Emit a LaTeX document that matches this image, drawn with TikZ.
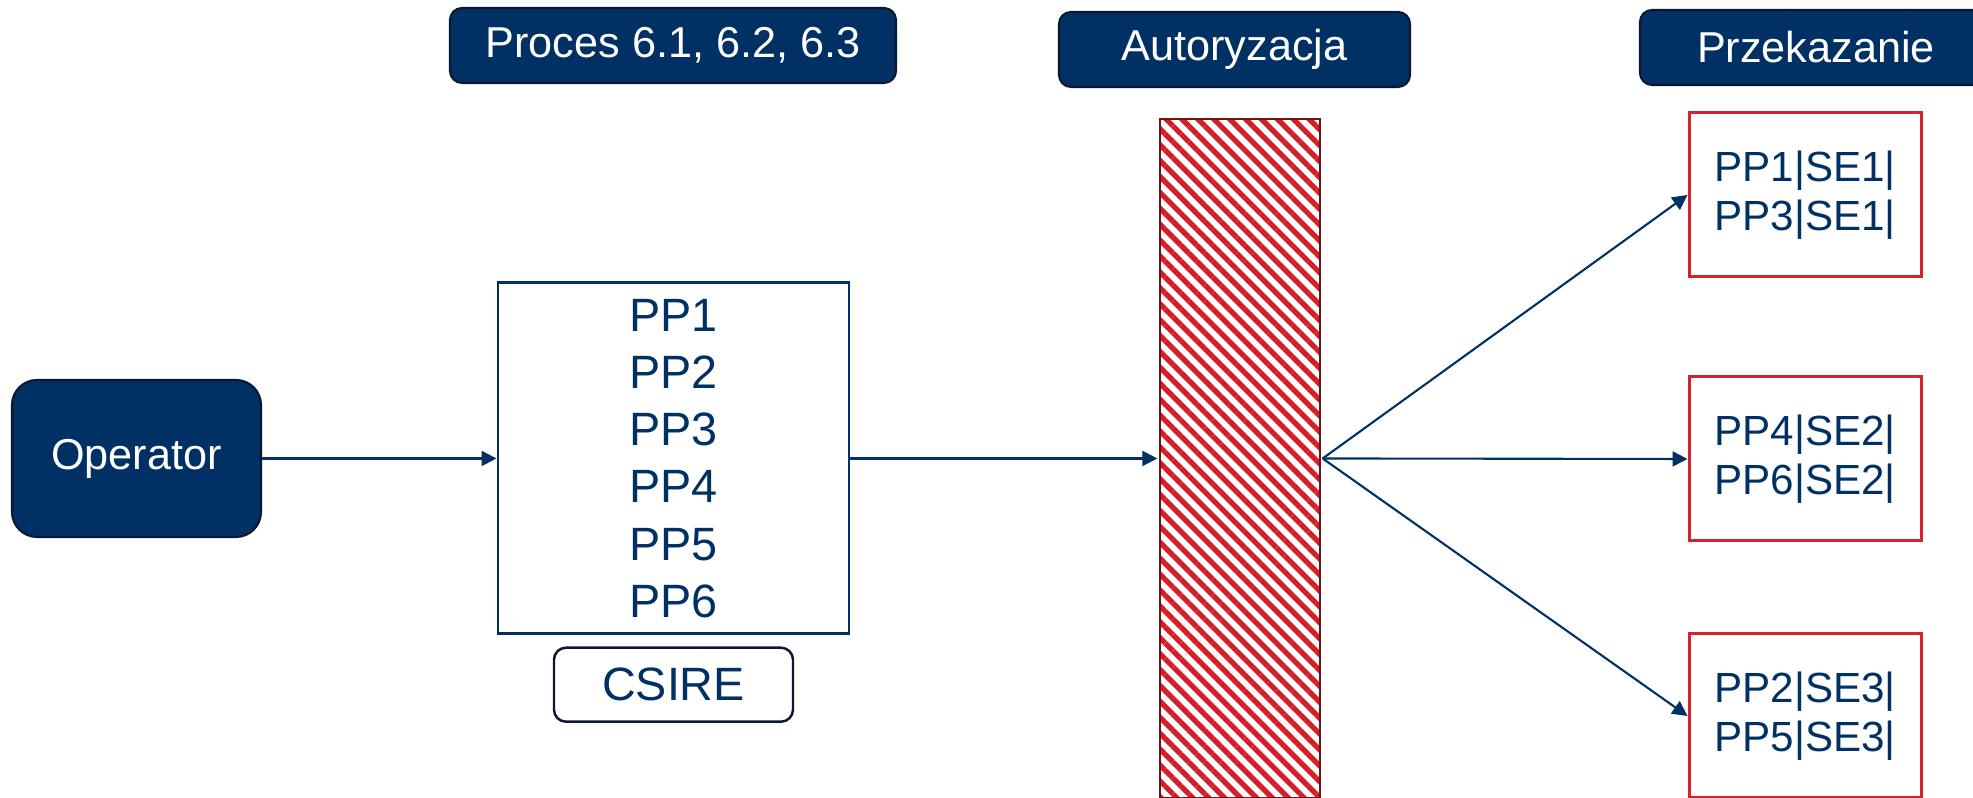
\documentclass[tikz,border=0pt]{standalone}
\usepackage{fontspec}
\setmainfont{Liberation Sans}
\usetikzlibrary{positioning,arrows.meta,patterns.meta}
\definecolor{navy}{RGB}{0,48,100}
\definecolor{navyedge}{RGB}{12,24,48}
\definecolor{hatchred}{RGB}{212,30,40}
\definecolor{darkred}{RGB}{110,20,20}
\definecolor{boxred}{RGB}{212,35,45}

\begin{document}
\begin{tikzpicture}[
    header/.style={draw=navyedge, line width=0.6pt, fill=navy, text=white, rounded corners=0.12cm, minimum height=0.75cm, inner sep=0pt, font=\fontsize{12.3}{14.6}\selectfont},
    redbox/.style={draw=boxred, line width=0.85pt, minimum width=2.32cm, minimum height=1.64cm, text=navy, align=center, inner sep=0pt, font=\fontsize{12}{14}\selectfont},
    link/.style={draw=navy, line width=0.6pt, -{Triangle[length=1.5mm, width=1.5mm]}}
]
    \useasboundingbox (0,0) rectangle (19.73,7.98);

    % Headers
    \node[header, minimum width=4.46cm] (proces) at (6.73, 7.525) {Proces 6.1, 6.2, 6.3};
    \node[header, minimum width=3.51cm] (autor) at (12.345, 7.485) {Autoryzacja};
    \node[header, minimum width=3.52cm] (przek) at (18.16, 7.505) {Przekazanie};

    % Operator
    \node[draw=navyedge, line width=0.6pt, fill=navy, text=white, rounded corners=0.25cm, minimum width=2.49cm, minimum height=1.57cm, font=\fontsize{12.3}{14.6}\selectfont] (operator) at (1.365, 3.395) {Operator};

    % PP list
    \node[draw=navy, line width=0.85pt, minimum width=3.51cm, minimum height=3.51cm, text=navy, align=center, font=\fontsize{13.3}{16.3}\selectfont] (lista) at (6.735, 3.395) {PP1\\PP2\\PP3\\PP4\\PP5\\PP6};
    \node[draw=navyedge, line width=0.7pt, rounded corners=0.12cm, minimum width=2.39cm, minimum height=0.74cm, text=navy, inner sep=0pt, font=\fontsize{13.3}{16}\selectfont, below=0.11cm of lista] (csire) {CSIRE};

    % Autoryzacja bar
    \node[draw=darkred, line width=0.6pt, pattern={Lines[angle=-45, distance=3.2pt, line width=1.5pt]}, pattern color=hatchred, minimum width=1.6cm, minimum height=6.79cm, inner sep=0pt] (bar) at (12.40, 3.395) {};

    % Output boxes
    \node[redbox] (se1) at (18.05, 6.03) {PP1|SE1|\\PP3|SE1|};
    \node[redbox] (se2) at (18.05, 3.39) {PP4|SE2|\\PP6|SE2|};
    \node[redbox] (se3) at (18.05, 0.82) {PP2|SE3|\\PP5|SE3|};

    \draw[link] (operator) -- (lista);
    \draw[link] (lista) -- (bar);
    \draw[link] (bar.east) -- (se1.west);
    \draw[link] (bar.east) -- (se2.west);
    \draw[link] (bar.east) -- (se3.west);

\end{tikzpicture}
\end{document}
